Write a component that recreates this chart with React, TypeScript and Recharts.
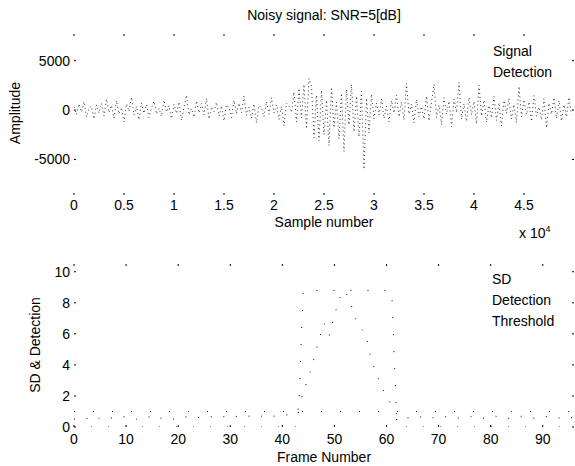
import React from "react";
import { LineChart, Line, XAxis, YAxis, Label } from "recharts";

// top panel: noisy speech signal, one value every SAMPLE_STEP samples
const SAMPLE_STEP = 250;
const SIGNAL = [
  300, -450, 620, -200, 850, -700, 150, 400, -900, 520, -300, 700, -600, 1100, -250, 480, -820, 950, -400, 260,
  -1200, 640, -150, 1300, -520, 380, -980, 710, -330, 560, -760, 220, 890, -410, 180, -640, 1000, -200, 450, -870,
  600, -350, 820, -1050, 300, 1500, -480, 150, -720, 930, -280, 660, -500, 1200, -900, 340, -160, 780, -620, 420,
  -1100, 560, 230, -750, 980, -380, 700, -260, 1400, -540, 290, -810, 630, -1300, 470, 190, -680, 870, -420, 1250,
  -300, 540, -950, 380, -1600, 720, 410, -230,
  1800, -1200, 2200, -800, 2600, -1900, 3200, 2400, -2800, 1500, -3100, 2000, -2500, 1000, -3600, 2300, -1800,
  800, -2900, 1700, -4200, 2100, -1500, 2600, -2200, 1400, -2700, 1900, -6000, 1200, -2300, 1600, -900,
  700, -500, 1100, -850, 400, -1200, 960, -300, 1500, -700, 820, -1000, 2700, -400, 600, -1300, 1050, -650, 350, -900,
  1400, -1100, 780, 2600, -750, 500, -1500, 1250, -420, 900, -1700, 1100, -260, 2800, -950, 640, -1150, 1300, -500, 870,
  -1400, 2500, -600, 1000, -1250, 450, -800, 1350, -1050, 720, -1600, 980, -350, 1200, -900, 560, -1300, 2400, -700, 1050,
  -480, 830, -1150, 1450, -620, 300, -1000, 1150, -1800, 700, -400, 1250, -850, 960, -1100, 540, -700, 1300, -450,
];
const SAMPLE_TICKS = [0, 5000, 10000, 15000, 20000, 25000, 30000, 35000, 40000, 45000];
const AMP_TICKS = [-5000, 0, 5000];
const TOP_LEGEND = ["Signal", "Detection"];

// bottom panel: per-frame SD, detection flag and threshold
const SD = [
  0.5, 0.6, 0.5, 0.6, 0.7, 0.5, 0.6, 0.6, 0.5, 0.6, 0.7, 0.6, 0.5, 0.6, 0.6, 0.7, 0.5, 0.6, 0.6, 0.5,
  0.6, 0.7, 0.6, 0.7, 0.6, 0.6, 0.7, 0.6, 0.6, 0.7, 0.6, 0.7, 0.6, 0.7, 0.7, 0.6, 0.7, 0.6, 0.7, 0.7,
  0.7, 0.8, 0.9, 1.1, 2.2, 3.2, 4.3, 5.6, 6.7, 5.9, 7.2, 8.3, 8.8, 8.1, 7.0, 6.4, 6.0, 4.4, 3.5, 2.6,
  2.0, 1.4, 0.8, 0.7, 0.6, 0.6, 0.7, 0.6, 0.5, 0.6, 0.6, 0.7, 0.6, 0.5, 0.6, 0.6, 0.7, 0.6, 0.5, 0.6,
  0.6, 0.7, 0.6, 0.6, 0.5, 0.6, 0.7, 0.6, 0.6, 0.5, 0.6, 0.7, 0.6, 0.6, 0.5, 0.6, 0.6,
];
const THRESHOLD = 1.0;
const DETECTION_START = 44;
const DETECTION_END = 61;
const DETECTION_LEVEL = 8.8;
const FRAME_TICKS = [0, 10, 20, 30, 40, 50, 60, 70, 80, 90];
const SD_TICKS = [0, 2, 4, 6, 8, 10];
const BOTTOM_LEGEND = ["SD", "Detection", "Threshold"];

const signalData = SIGNAL.map((amp, i) => ({ sample: i * SAMPLE_STEP, amp }));
const frameData = SD.map((sd, i) => ({
  frame: i,
  sd,
  detection: i >= DETECTION_START && i <= DETECTION_END ? DETECTION_LEVEL : 0,
  threshold: THRESHOLD,
}));

const FONT = "'Liberation Sans', Arial, Helvetica, sans-serif";
const tickFont = { fontSize: 14, fill: "#000", fontFamily: FONT };
const blank = () => "";
const tickMark = { stroke: "#000" };

const abs = (left: number, top: number, extra: React.CSSProperties = {}): React.CSSProperties => ({
  position: "absolute",
  left,
  top,
  fontFamily: FONT,
  fontSize: 14,
  color: "#000",
  whiteSpace: "nowrap",
  ...extra,
});

// plot box: x 74..574 in both panels
function SignalPanel() {
  const dom: [number, number] = [-8600, 7700];
  return (
    <LineChart width={575} height={240} data={signalData} margin={{ top: 34, right: 1, bottom: 15, left: 14 }}>
      <XAxis dataKey="sample" type="number" domain={[0, 50000]} ticks={SAMPLE_TICKS} allowDataOverflow
        tickFormatter={(v: number) => String(v / 10000)} height={30} tickSize={0} tickMargin={5}
        axisLine={false} tickLine={false} tick={tickFont}>
        <Label value="Sample number" position="insideBottom" offset={-2} style={{ ...tickFont }} />
      </XAxis>
      <XAxis xAxisId="tt" dataKey="sample" type="number" orientation="top" mirror domain={[0, 50000]}
        ticks={SAMPLE_TICKS} allowDataOverflow tickFormatter={blank} tickSize={2} axisLine={false} tickLine={tickMark} />
      <XAxis xAxisId="tb" dataKey="sample" type="number" mirror domain={[0, 50000]}
        ticks={SAMPLE_TICKS} allowDataOverflow tickFormatter={blank} tickSize={2} axisLine={false} tickLine={tickMark} />
      <YAxis type="number" domain={dom} ticks={AMP_TICKS} allowDataOverflow width={60}
        tickSize={0} tickMargin={4} axisLine={false} tickLine={false} tick={tickFont} />
      <YAxis yAxisId="tl" type="number" mirror domain={dom} ticks={AMP_TICKS} allowDataOverflow
        tickSize={2} tickFormatter={blank} axisLine={false} tickLine={tickMark} />
      <YAxis yAxisId="tr" orientation="right" type="number" mirror domain={dom} ticks={AMP_TICKS}
        allowDataOverflow tickSize={2} tickFormatter={blank} axisLine={false} tickLine={tickMark} />
      <Line dataKey="amp" type="linear" stroke="#000" strokeWidth={0.8} strokeDasharray="1 3"
        dot={false} isAnimationActive={false} />
    </LineChart>
  );
}

function FramePanel() {
  const dom: [number, number] = [0, 10.5];
  return (
    <LineChart width={575} height={226} data={frameData} margin={{ top: 24, right: 1, bottom: 9, left: 14 }}>
      <XAxis dataKey="frame" type="number" domain={[0, 96]} ticks={FRAME_TICKS} allowDataOverflow
        height={30} tickSize={0} tickMargin={7} axisLine={false} tickLine={false} tick={tickFont}>
        <Label value="Frame Number" position="insideBottom" offset={-5} style={{ ...tickFont }} />
      </XAxis>
      <XAxis xAxisId="tt" dataKey="frame" type="number" orientation="top" mirror domain={[0, 96]}
        ticks={FRAME_TICKS} allowDataOverflow tickFormatter={blank} tickSize={2} axisLine={false} tickLine={tickMark} />
      <XAxis xAxisId="tb" dataKey="frame" type="number" mirror domain={[0, 96]}
        ticks={FRAME_TICKS} allowDataOverflow tickFormatter={blank} tickSize={2} axisLine={false} tickLine={tickMark} />
      <YAxis type="number" domain={dom} ticks={SD_TICKS} allowDataOverflow width={60}
        tickSize={0} tickMargin={4} axisLine={false} tickLine={false} tick={tickFont} />
      <YAxis yAxisId="tl" type="number" mirror domain={dom} ticks={SD_TICKS} allowDataOverflow
        tickSize={2} tickFormatter={blank} axisLine={false} tickLine={tickMark} />
      <YAxis yAxisId="tr" orientation="right" type="number" mirror domain={dom} ticks={SD_TICKS}
        allowDataOverflow tickSize={2} tickFormatter={blank} axisLine={false} tickLine={tickMark} />
      <Line dataKey="sd" stroke="#000" strokeWidth={1} strokeDasharray="1 12" dot={false} isAnimationActive={false} />
      <Line dataKey="detection" stroke="#000" strokeWidth={1} strokeDasharray="1 16" dot={false} isAnimationActive={false} />
      <Line dataKey="threshold" stroke="#000" strokeWidth={1} strokeDasharray="1 18" dot={false} isAnimationActive={false} />
    </LineChart>
  );
}

const legendStyle = { lineHeight: "21px" };

export default function App() {
  return (
    <div style={{ position: "absolute", left: 0, top: 0, width: 575, height: 466, background: "#fff" }}>
      <div style={{ position: "absolute", left: 0, top: 0 }}>
        <SignalPanel />
      </div>
      <div style={{ position: "absolute", left: 0, top: 240 }}>
        <FramePanel />
      </div>
      <div style={abs(324, 15, { transform: "translate(-50%, -50%)" })}>Noisy signal: SNR=5[dB]</div>
      <div style={abs(15, 113, { transform: "translate(-50%, -50%) rotate(-90deg)" })}>Amplitude</div>
      <div style={abs(35, 345, { transform: "translate(-50%, -50%) rotate(-90deg)" })}>SD &amp; Detection</div>
      <div style={abs(519, 224)}>
        x 10<sup style={{ fontSize: 9 }}>4</sup>
      </div>
      <div style={abs(493, 41, legendStyle)}>
        {TOP_LEGEND.map((n) => (
          <div key={n}>{n}</div>
        ))}
      </div>
      <div style={abs(492, 269, legendStyle)}>
        {BOTTOM_LEGEND.map((n) => (
          <div key={n}>{n}</div>
        ))}
      </div>
    </div>
  );
}
